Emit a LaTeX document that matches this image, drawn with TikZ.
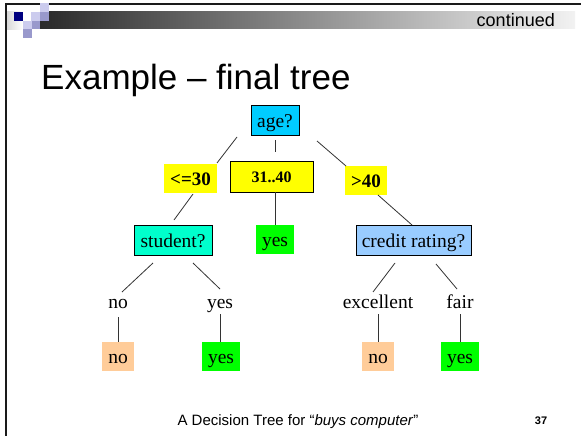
\documentclass[tikz,border=0pt]{standalone}
\usepackage{fontspec}
\setmainfont{Liberation Serif}
\newfontfamily\arialf{Liberation Sans}
\definecolor{agec}{HTML}{00CCFF}
\definecolor{studc}{HTML}{00FFCC}
\definecolor{credc}{HTML}{99CCFF}
\definecolor{yelc}{HTML}{FFFF00}
\definecolor{grnc}{HTML}{00FF00}
\definecolor{orc}{HTML}{FFCC99}
\definecolor{navyc}{HTML}{000080}
\definecolor{lavl}{HTML}{CCCCEE}
\definecolor{lavm}{HTML}{9999CC}
\definecolor{bardark}{HTML}{2A2A2A}
\definecolor{barlight}{HTML}{F2F2F2}
\definecolor{framec}{HTML}{1A1A1A}
\definecolor{edgec}{HTML}{333333}
\tikzset{
  treefont/.style={font=\fontsize{19.5}{22}\selectfont},
  inner/.style={draw=black, line width=0.8pt, inner sep=0pt, treefont, text height=14pt, text depth=0pt},
  leafbox/.style={inner sep=0pt, treefont, text height=14pt, text depth=0pt},
  arcbox/.style={fill=yelc, inner sep=0pt, font=\fontsize{19}{22}\selectfont\bfseries, text height=13pt, text depth=0pt},
  plainlab/.style={inner sep=0pt, treefont, anchor=base},
  edge/.style={draw=edgec, line width=0.8pt}
}
\begin{document}
\begin{tikzpicture}[x=1pt,y=-1pt]
\useasboundingbox (0,0) rectangle (581,436);
\fill[white] (0,0) rectangle (581,436);
% header
\shade[left color=bardark, right color=barlight] (40,12) rectangle (575,29);
\shade[left color=black!15, right color=white] (7,12) rectangle (23,30);
\draw[framec, line width=2pt] (6,436) -- (6,4) -- (581,4);
\fill[navyc] (14,12) rectangle (23,21);
\fill[lavl] (31,12) rectangle (40,21);
\fill[lavm] (40,12) rectangle (49,21);
\fill[lavl] (40,3) rectangle (49,12);
\fill[lavl] (23,21) rectangle (31.5,29.5);
\fill[lavm] (31.5,21) rectangle (40,29.5);
\fill[lavm] (23,29.5) rectangle (31.5,38);
\node[anchor=base east, inner sep=0pt, font=\arialf\fontsize{18}{20}\selectfont] (cont) at (555,27) {continued};
% title
\node[anchor=base west, inner sep=0pt, font=\arialf\fontsize{35}{40}\selectfont] (title) at (41,89) {Example – final tree};
% tree nodes
\node[inner, fill=agec, minimum width=48pt, minimum height=30pt] (age) at (275,120) {age?};
\node[arcbox, minimum width=53pt, minimum height=29pt] (le30) at (190.5,178.5) {<=30};
\node[arcbox, draw=black, line width=0.8pt, minimum width=83pt, minimum height=31pt, font=\fontsize{16}{18}\selectfont\bfseries, text height=12pt] (m3140) at (271.5,176.5) {31..40};
\node[arcbox, minimum width=42pt, minimum height=29pt] (gt40) at (366,180.5) {>40};
\node[inner, fill=studc, minimum width=78pt, minimum height=30pt] (student) at (173,240) {student?};
\node[leafbox, fill=grnc, minimum width=38pt, minimum height=29pt] (yesA) at (275,239.5) {yes};
\node[inner, fill=credc, minimum width=115pt, minimum height=30pt] (credit) at (413.5,240) {credit rating?};
\node[plainlab] (lno) at (118,308) {no};
\node[plainlab] (lyes) at (220,308) {yes};
\node[plainlab] (lexc) at (378,308) {excellent};
\node[plainlab] (lfair) at (460,308) {fair};
\node[leafbox, fill=orc, minimum width=32pt, minimum height=29pt] (noB) at (118,356.5) {no};
\node[leafbox, fill=grnc, minimum width=38pt, minimum height=29pt] (yesB) at (221,356.5) {yes};
\node[leafbox, fill=orc, minimum width=32pt, minimum height=29pt] (noC) at (378,356.5) {no};
\node[leafbox, fill=grnc, minimum width=38pt, minimum height=29pt] (yesC) at (460,356.5) {yes};
% connector end points
\coordinate (e1a) at (237,137); \coordinate (e1b) at (217,163);
\coordinate (e2a) at (275,140); \coordinate (e2b) at (275,152);
\coordinate (e3a) at (317,141); \coordinate (e3b) at (346,166);
\coordinate (e4a) at (193,194); \coordinate (e4b) at (174,220);
\coordinate (e6a) at (378,195); \coordinate (e6b) at (412,225);
\coordinate (e7a) at (153,263); \coordinate (e7b) at (122,292);
\coordinate (e8a) at (193,263); \coordinate (e8b) at (220,289);
\coordinate (e9a) at (118,317);
\coordinate (e10a) at (220,314);
\coordinate (e11a) at (395,263); \coordinate (e11b) at (373,292);
\coordinate (e12a) at (436,264); \coordinate (e12b) at (457,289);
\coordinate (e13a) at (378,314);
\coordinate (e14a) at (460,314);
% connectors
\draw[edge] (e1a) -- (e1b);
\draw[edge] (e2a) -- (e2b);
\draw[edge] (e3a) -- (e3b);
\draw[edge] (e4a) -- (e4b);
\draw[edge] (m3140.south -| yesA) -- (yesA.north);
\draw[edge] (e6a) -- (e6b);
\draw[edge] (e7a) -- (e7b);
\draw[edge] (e8a) -- (e8b);
\draw[edge] (e9a) -- (noB.north);
\draw[edge] (e10a) -- (yesB.north -| e10a);
\draw[edge] (e11a) -- (e11b);
\draw[edge] (e12a) -- (e12b);
\draw[edge] (e13a) -- (noC.north);
\draw[edge] (e14a) -- (yesC.north);
% footer
\node[anchor=base, inner sep=0pt, font=\arialf\fontsize{15}{17}\selectfont] (foot) at (298,425) {A Decision Tree for “\textit{buys computer}”};
\node[anchor=base, inner sep=0pt, font=\arialf\fontsize{11}{13}\selectfont\bfseries] (pnum) at (541,424) {37};
\end{tikzpicture}
\end{document}
